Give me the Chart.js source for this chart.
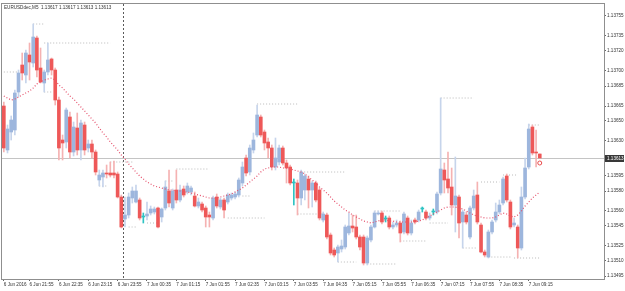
<!DOCTYPE html>
<html>
<head>
<meta charset="utf-8">
<title>EURUSDdec,M5</title>
<script src="https://cdn.jsdelivr.net/npm/chart.js"></script>
<style>
  html, body { margin: 0; padding: 0; background: #fff; }
  #wrap { width: 625px; height: 291px; }
</style>
</head>
<body>
<div id="wrap"><canvas id="priceChart" width="625" height="291"></canvas></div>
<script>
// EURUSD M5, 6 Jun 2016 21:20 .. 7 Jun 2016 09:30 (one value per bar)
const symbol = 'EURUSDdec,M5';

const open = [
  1.13665, 1.13621, 1.13639, 1.13641, 1.13679, 1.13706, 1.13696, 1.13716, 1.13708, 1.13733,
  1.13703, 1.13688, 1.13699, 1.13712, 1.13701, 1.13671, 1.13631, 1.13629, 1.13654, 1.13619,
  1.13643, 1.13621, 1.13646, 1.13623, 1.13627, 1.13619, 1.13591, 1.13594, 1.13598, 1.13598,
  1.13598, 1.13597, 1.13574, 1.13552, 1.13556, 1.13573, 1.13569, 1.13571, 1.13554, 1.13555,
  1.13558, 1.13559, 1.13563, 1.13554, 1.13563, 1.13580, 1.13563, 1.13581, 1.13571, 1.13582,
  1.13579, 1.13579, 1.13575, 1.13565, 1.13567, 1.13563, 1.13556, 1.13553, 1.13574, 1.13564,
  1.13571, 1.13569, 1.13573, 1.13574, 1.13576, 1.13588, 1.13613, 1.13599, 1.13621, 1.13636,
  1.13654, 1.13639, 1.13629, 1.13623, 1.13604, 1.13609, 1.13623, 1.13608, 1.13604, 1.13588,
  1.13588, 1.13573, 1.13581, 1.13592, 1.13581, 1.13588, 1.13581, 1.13551, 1.13556, 1.13536,
  1.13521, 1.13518, 1.13522, 1.13524, 1.13538, 1.13545, 1.13544, 1.13534, 1.13534, 1.13508,
  1.13531, 1.13544, 1.13557, 1.13558, 1.13552, 1.13553, 1.13544, 1.13546, 1.13548, 1.13539,
  1.13553, 1.13538, 1.13551, 1.13551, 1.13562, 1.13559, 1.13553, 1.13559, 1.13559, 1.13578,
  1.13601, 1.13592, 1.13584, 1.13566, 1.13574, 1.13549, 1.13556, 1.13534, 1.13563, 1.13576,
  1.13546, 1.13519, 1.13514, 1.13539, 1.13551, 1.13559, 1.13568, 1.13595, 1.13569, 1.13546,
  1.13544, 1.13523, 1.13574, 1.13604, 1.13644, 1.13619, 1.13617
];
const high = [
  1.13669, 1.13646, 1.13655, 1.13681, 1.13701, 1.13718, 1.13721, 1.13728, 1.13747, 1.13735,
  1.13723, 1.13701, 1.13728, 1.13713, 1.13703, 1.13674, 1.13636, 1.13663, 1.13659, 1.13649,
  1.13658, 1.13651, 1.13649, 1.13631, 1.13631, 1.13621, 1.13601, 1.13601, 1.13606, 1.13609,
  1.13610, 1.13599, 1.13576, 1.13574, 1.13578, 1.13584, 1.13586, 1.13573, 1.13558, 1.13569,
  1.13565, 1.13564, 1.13564, 1.13563, 1.13590, 1.13601, 1.13582, 1.13601, 1.13586, 1.13585,
  1.13588, 1.13585, 1.13579, 1.13573, 1.13569, 1.13565, 1.13559, 1.13575, 1.13577, 1.13573,
  1.13573, 1.13578, 1.13578, 1.13579, 1.13593, 1.13609, 1.13616, 1.13626, 1.13638, 1.13666,
  1.13656, 1.13641, 1.13633, 1.13626, 1.13633, 1.13626, 1.13625, 1.13611, 1.13606, 1.13592,
  1.13591, 1.13601, 1.13597, 1.13595, 1.13590, 1.13590, 1.13583, 1.13559, 1.13558, 1.13538,
  1.13523, 1.13526, 1.13531, 1.13546, 1.13558, 1.13556, 1.13556, 1.13536, 1.13536, 1.13535,
  1.13546, 1.13560, 1.13560, 1.13560, 1.13555, 1.13555, 1.13549, 1.13551, 1.13550, 1.13559,
  1.13555, 1.13551, 1.13553, 1.13561, 1.13564, 1.13561, 1.13558, 1.13562, 1.13579, 1.13673,
  1.13608, 1.13619, 1.13603, 1.13614, 1.13576, 1.13561, 1.13559, 1.13565, 1.13581, 1.13589,
  1.13548, 1.13521, 1.13541, 1.13551, 1.13568, 1.13571, 1.13594, 1.13597, 1.13571, 1.13553,
  1.13546, 1.13584, 1.13613, 1.13647, 1.13646, 1.13641, 1.13617
];
const low = [
  1.13619, 1.13618, 1.13631, 1.13636, 1.13674, 1.13691, 1.13688, 1.13691, 1.13704, 1.13694,
  1.13688, 1.13679, 1.13696, 1.13696, 1.13666, 1.13611, 1.13611, 1.13623, 1.13613, 1.13615,
  1.13616, 1.13611, 1.13616, 1.13619, 1.13613, 1.13596, 1.13585, 1.13584, 1.13593, 1.13594,
  1.13593, 1.13573, 1.13543, 1.13544, 1.13553, 1.13568, 1.13568, 1.13551, 1.13548, 1.13551,
  1.13556, 1.13557, 1.13543, 1.13549, 1.13561, 1.13564, 1.13561, 1.13568, 1.13569, 1.13574,
  1.13577, 1.13576, 1.13564, 1.13563, 1.13559, 1.13544, 1.13544, 1.13551, 1.13563, 1.13562,
  1.13553, 1.13567, 1.13571, 1.13572, 1.13574, 1.13585, 1.13595, 1.13596, 1.13618, 1.13634,
  1.13634, 1.13621, 1.13613, 1.13601, 1.13601, 1.13606, 1.13606, 1.13588, 1.13586, 1.13566,
  1.13556, 1.13566, 1.13571, 1.13563, 1.13564, 1.13569, 1.13551, 1.13549, 1.13532, 1.13516,
  1.13514, 1.13509, 1.13519, 1.13522, 1.13536, 1.13539, 1.13532, 1.13521, 1.13506, 1.13506,
  1.13529, 1.13543, 1.13556, 1.13547, 1.13549, 1.13542, 1.13542, 1.13544, 1.13529, 1.13537,
  1.13536, 1.13536, 1.13547, 1.13549, 1.13559, 1.13551, 1.13551, 1.13556, 1.13557, 1.13576,
  1.13578, 1.13578, 1.13556, 1.13539, 1.13533, 1.13523, 1.13547, 1.13532, 1.13561, 1.13547,
  1.13518, 1.13514, 1.13513, 1.13537, 1.13549, 1.13557, 1.13566, 1.13569, 1.13542, 1.13544,
  1.13513, 1.13521, 1.13572, 1.13602, 1.13616, 1.13604, 1.13613
];
const close = [
  1.13623, 1.13642, 1.13651, 1.13678, 1.13698, 1.13698, 1.13718, 1.13709, 1.13734, 1.13701,
  1.13689, 1.13699, 1.13711, 1.13701, 1.13671, 1.13623, 1.13628, 1.13661, 1.13619, 1.13644,
  1.13621, 1.13648, 1.13621, 1.13627, 1.13619, 1.13599, 1.13596, 1.13598, 1.13597, 1.13596,
  1.13596, 1.13574, 1.13544, 1.13556, 1.13574, 1.13580, 1.13580, 1.13553, 1.13554, 1.13557,
  1.13562, 1.13562, 1.13544, 1.13562, 1.13584, 1.13568, 1.13580, 1.13571, 1.13581, 1.13576,
  1.13585, 1.13583, 1.13565, 1.13569, 1.13561, 1.13554, 1.13554, 1.13573, 1.13565, 1.13571,
  1.13561, 1.13576, 1.13576, 1.13577, 1.13591, 1.13604, 1.13598, 1.13623, 1.13631, 1.13656,
  1.13636, 1.13628, 1.13623, 1.13604, 1.13613, 1.13623, 1.13608, 1.13603, 1.13588, 1.13588,
  1.13573, 1.13599, 1.13595, 1.13581, 1.13588, 1.13571, 1.13553, 1.13557, 1.13534, 1.13518,
  1.13516, 1.13524, 1.13525, 1.13544, 1.13545, 1.13543, 1.13534, 1.13524, 1.13508, 1.13533,
  1.13544, 1.13558, 1.13558, 1.13549, 1.13552, 1.13544, 1.13546, 1.13548, 1.13538, 1.13557,
  1.13538, 1.13548, 1.13549, 1.13559, 1.13562, 1.13553, 1.13555, 1.13559, 1.13577, 1.13602,
  1.13591, 1.13583, 1.13566, 1.13575, 1.13548, 1.13559, 1.13549, 1.13563, 1.13575, 1.13549,
  1.13519, 1.13516, 1.13539, 1.13549, 1.13559, 1.13566, 1.13592, 1.13571, 1.13544, 1.13548,
  1.13523, 1.13574, 1.13603, 1.13642, 1.13618, 1.13618, 1.13613
];
// moving average (red dotted line)
const ma = [
  1.13675, 1.13673, 1.13671, 1.13672, 1.13674, 1.13676, 1.13678, 1.13680, 1.13683, 1.13687,
  1.13689, 1.13691, 1.13692, 1.13693, 1.13691, 1.13686, 1.13683, 1.13679, 1.13675, 1.13672,
  1.13668, 1.13664, 1.13660, 1.13656, 1.13652, 1.13648, 1.13643, 1.13638, 1.13634, 1.13629,
  1.13625, 1.13621, 1.13616, 1.13612, 1.13607, 1.13603, 1.13599, 1.13595, 1.13592, 1.13589,
  1.13587, 1.13585, 1.13584, 1.13583, 1.13582, 1.13581, 1.13581, 1.13580, 1.13580, 1.13579,
  1.13579, 1.13578, 1.13577, 1.13576, 1.13575, 1.13574, 1.13573, 1.13573, 1.13573, 1.13574,
  1.13575, 1.13576, 1.13577, 1.13579, 1.13581, 1.13583, 1.13586, 1.13589, 1.13592, 1.13595,
  1.13599, 1.13602, 1.13603, 1.13604, 1.13604, 1.13604, 1.13603, 1.13603, 1.13602, 1.13601,
  1.13600, 1.13599, 1.13597, 1.13594, 1.13591, 1.13588, 1.13584, 1.13581, 1.13578, 1.13574,
  1.13570, 1.13567, 1.13564, 1.13561, 1.13559, 1.13556, 1.13554, 1.13552, 1.13550, 1.13549,
  1.13548, 1.13549, 1.13550, 1.13551, 1.13551, 1.13550, 1.13550, 1.13549, 1.13549, 1.13549,
  1.13549, 1.13549, 1.13549, 1.13550, 1.13551, 1.13553, 1.13555, 1.13557, 1.13559, 1.13561,
  1.13563, 1.13564, 1.13564, 1.13564, 1.13563, 1.13562, 1.13560, 1.13558, 1.13556, 1.13555,
  1.13554, 1.13553, 1.13553, 1.13553, 1.13554, 1.13556, 1.13558, 1.13557, 1.13555, 1.13554,
  1.13556, 1.13560, 1.13565, 1.13569, 1.13573, 1.13576, 1.13579
];

// short dotted price levels: first bar, last bar, price
const levelFrom  = [8, 11, 0, 11, 29, 47, 44, 26, 61, 34, 39, 69, 81, 65, 80, 91, 99, 101, 119, 143, 136, 130, 116, 108, 125, 132, 139];
const levelTo    = [11, 29, 4, 13, 35, 56, 46, 28, 71, 36, 42, 80, 93, 67, 87, 96, 107, 108, 128, 146, 140, 135, 121, 115, 129, 138, 146];
const levelPrice = [1.13747, 1.13728, 1.13699, 1.13679, 1.13609, 1.13602, 1.13590, 1.13585, 1.13553, 1.13544,
                    1.13548, 1.13667, 1.13599, 1.13575, 1.13557, 1.13509, 1.13507, 1.13560, 1.13673, 1.13646,
                    1.13596, 1.13589, 1.13548, 1.13530, 1.13523, 1.13514, 1.13513];

const xTickIdx = [0, 7, 15, 23, 31, 39, 47, 55, 63, 71, 79, 87, 95, 103, 111, 119, 127, 135, 143];
const xTickText = ['6 Jun 2016', '6 Jun 21:55', '6 Jun 22:35', '6 Jun 23:15', '6 Jun 23:55', '7 Jun 00:35',
                   '7 Jun 01:15', '7 Jun 01:55', '7 Jun 02:35', '7 Jun 03:15', '7 Jun 03:55', '7 Jun 04:35',
                   '7 Jun 05:15', '7 Jun 05:55', '7 Jun 06:35', '7 Jun 07:15', '7 Jun 07:55', '7 Jun 08:35',
                   '7 Jun 09:15'];
const yTicks = [1.13755, 1.13735, 1.13720, 1.13700, 1.13685, 1.13665, 1.13650, 1.13630,
                1.13595, 1.13580, 1.13560, 1.13545, 1.13525, 1.13510, 1.13495];

const lastPrice = 1.13613;
const separatorIdx = 32;          // 7 Jun 00:00
const markerIdx = 146, markerPrice = 1.13608;

const slots = 164;                 // bars + right shift
const labels = Array.from({length: slots}, (_, i) => i);

const BULL = '#9db6dd', BULL_W = '#c6d4eb';
const BEAR = '#ee5858', BEAR_W = '#f5b2b2';
const DOJI = '#2fc3c3';
const FONT = 'Liberation Sans, Arial, sans-serif';

const fmt = v => v.toFixed(5);
const candleCol = (i, doji, up, down) => open[i] === close[i] ? doji : (close[i] > open[i] ? up : down);

const bodyData = open.map((o, i) => [Math.min(o, close[i]), Math.max(o, close[i])]);
const wickData = open.map((o, i) => [low[i], high[i]]);

const levelSets = levelFrom.map((from, k) => ({
    type: 'line',
    data: labels.map(i => (i >= from && i <= levelTo[k]) ? levelPrice[k] : null),
    borderColor: '#b9b9b9',
    borderWidth: 1,
    borderDash: [1, 2],
    pointRadius: 0,
    spanGaps: false,
    order: 5
}));

const mt4Frame = {
    id: 'mt4Frame',
    beforeDatasetsDraw(chart) {
        const {ctx, chartArea: a, scales: {x, y}} = chart;
        ctx.save();
        const py = Math.round(y.getPixelForValue(lastPrice)) + 0.5;
        ctx.strokeStyle = '#c4c4c4';
        ctx.lineWidth = 1;
        ctx.beginPath();
        ctx.moveTo(a.left, py);
        ctx.lineTo(a.right, py);
        ctx.stroke();
        // day separator
        const sx = Math.round((x.getPixelForValue(separatorIdx) + x.getPixelForValue(separatorIdx + 1)) / 2) + 0.5;
        ctx.strokeStyle = '#5a5a5a';
        ctx.setLineDash([2, 2]);
        ctx.beginPath();
        ctx.moveTo(sx, a.top);
        ctx.lineTo(sx, a.bottom);
        ctx.stroke();
        ctx.restore();
    },
    afterDraw(chart) {
        const {ctx, chartArea: a, scales: {y}} = chart;
        const n = close.length;
        ctx.save();
        ctx.strokeStyle = '#8f8f8f';
        ctx.lineWidth = 1;
        ctx.strokeRect(a.left - 0.5, a.top - 0.5, a.right - a.left + 1, a.bottom - a.top + 1);
        // bid price box
        const py = y.getPixelForValue(lastPrice);
        ctx.fillStyle = '#383838';
        ctx.fillRect(a.right + 1, Math.round(py) - 3, 19, 7);
        ctx.fillStyle = '#fff';
        ctx.font = '4.6px ' + FONT;
        ctx.textBaseline = 'middle';
        ctx.fillText(fmt(lastPrice), a.right + 3, Math.round(py) + 0.5);
        // title
        ctx.fillStyle = '#333';
        ctx.fillText(symbol + '  ' + [open[n - 1], high[n - 1], low[n - 1], close[n - 1]].map(fmt).join(' '),
            a.left + 2, a.top + 3.5);
        ctx.restore();
    }
};

new Chart(document.getElementById('priceChart'), {
    type: 'bar',
    data: {
        labels: labels,
        datasets: [{
            label: 'ma',
            type: 'line',
            data: ma,
            borderColor: '#e5506b',
            borderWidth: 1.2,
            borderDash: [1, 2],
            pointRadius: 0,
            order: -1
        }, {
            label: 'marker',
            type: 'line',
            data: labels.map(i => i === markerIdx ? markerPrice : null),
            showLine: false,
            pointRadius: 2,
            pointBorderWidth: 1,
            pointBorderColor: '#e84a4a',
            pointBackgroundColor: 'rgba(0,0,0,0)',
            order: -2
        }, {
            label: 'body',
            data: bodyData,
            backgroundColor: open.map((o, i) => candleCol(i, DOJI, BULL, BEAR)),
            barThickness: 3,
            minBarLength: 1,
            grouped: false,
            borderWidth: 0,
            order: 0
        }, {
            label: 'wick',
            data: wickData,
            backgroundColor: open.map((o, i) => candleCol(i, DOJI, BULL_W, BEAR_W)),
            barThickness: 1,
            grouped: false,
            borderWidth: 0,
            order: 1
        }, ...levelSets]
    },
    options: {
        responsive: false,
        animation: false,
        devicePixelRatio: 1,
        layout: { padding: { left: 2, top: 4, right: 0, bottom: 0 }, autoPadding: false },
        plugins: {
            legend: { display: false },
            tooltip: { enabled: false }
        },
        scales: {
            x: {
                offset: true,
                afterFit(s) { s.height = 12; },
                afterBuildTicks(s) { s.ticks = xTickIdx.map(v => ({value: v})); },
                grid: { display: true, drawOnChartArea: false, drawTicks: true, tickLength: 2, offset: false, color: '#666' },
                border: { display: false },
                ticks: {
                    align: 'start',
                    autoSkip: false,
                    maxRotation: 0,
                    padding: 1,
                    color: '#333',
                    font: { size: 4.6, family: FONT },
                    callback: v => xTickText[xTickIdx.indexOf(v)]
                }
            },
            y: {
                position: 'right',
                min: 1.13492,
                max: 1.13767,
                afterFit(s) { s.width = 21; },
                afterBuildTicks(s) { s.ticks = yTicks.map(v => ({value: v})); },
                grid: { drawOnChartArea: false, drawTicks: true, tickLength: 2, color: '#666' },
                border: { display: false },
                ticks: {
                    autoSkip: false,
                    padding: 1,
                    color: '#333',
                    font: { size: 4.6, family: FONT },
                    callback: v => fmt(v)
                }
            }
        }
    },
    plugins: [mt4Frame]
});
</script>
</body>
</html>
